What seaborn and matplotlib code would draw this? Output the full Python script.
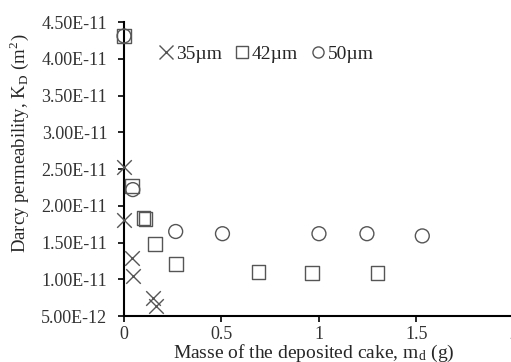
import pandas as pd
import matplotlib
matplotlib.use("Agg")
import matplotlib.pyplot as plt
import seaborn as sns
from matplotlib.lines import Line2D
from matplotlib.ticker import FuncFormatter

# Data
mass_35 = [0.0, 0.0, 0.04, 0.045, 0.15, 0.165]
perm_35 = [2.53e-11, 1.80e-11, 1.29e-11, 1.05e-11, 7.5e-12, 6.4e-12]

mass_42 = [0.0, 0.04, 0.10, 0.11, 0.16, 0.265, 0.69, 0.965, 1.30]
perm_42 = [4.31e-11, 2.27e-11, 1.83e-11, 1.82e-11, 1.48e-11, 1.21e-11, 1.10e-11, 1.08e-11, 1.08e-11]

mass_50 = [0.0, 0.045, 0.265, 0.505, 1.0, 1.246, 1.53]
perm_50 = [4.31e-11, 2.22e-11, 1.65e-11, 1.62e-11, 1.62e-11, 1.62e-11, 1.59e-11]

y_ticks = [5e-12, 1e-11, 1.5e-11, 2e-11, 2.5e-11, 3e-11, 3.5e-11, 4e-11, 4.5e-11]
x_ticks = [0, 0.5, 1, 1.5, 2]

sns.set_style("white")
plt.rcParams['font.family'] = ['Liberation Serif', 'DejaVu Serif']
plt.rcParams['mathtext.fontset'] = 'stix'

grey = '#555555'
fig = plt.figure(figsize=(5.11, 3.62), dpi=100)
ax = fig.add_axes([0.2427, 0.127, 0.763, 0.8122])

sns.scatterplot(x=mass_35, y=perm_35, marker='x', s=110, color=grey, linewidth=1.0, ax=ax, clip_on=False, zorder=3)
sns.scatterplot(x=mass_42, y=perm_42, marker='s', s=100, facecolor='none', edgecolor=grey, linewidth=1.0, ax=ax, clip_on=False, zorder=3)
sns.scatterplot(x=mass_50, y=perm_50, marker='o', s=100, facecolor='none', edgecolor=grey, linewidth=1.0, ax=ax, clip_on=False, zorder=3)

ax.set_xlim(0, 2)
ax.set_ylim(5e-12, 4.5e-11)
ax.set_xticks(x_ticks)
ax.set_yticks(y_ticks)
ax.xaxis.set_major_formatter(FuncFormatter(lambda v, p: f"{v:g}"))
ax.yaxis.set_major_formatter(FuncFormatter(lambda v, p: f"{v:.2E}".replace("E-0", "E-")))
ax.tick_params(axis='both', left=True, bottom=True, direction='out', length=4, width=1.2,
               labelsize=13, colors='black', labelcolor='#333333')
ax.tick_params(axis='y', pad=8)
ax.tick_params(axis='x', pad=3.5)

for side in ['top', 'right']:
    ax.spines[side].set_visible(False)
for side in ['left', 'bottom']:
    ax.spines[side].set_color('black')
    ax.spines[side].set_linewidth(1.5)

ax.set_xlabel(r"Masse of the deposited cake, m$_\mathregular{d}$ (g)", fontsize=14, va='baseline')
ax.xaxis.set_label_coords(0.486, -0.143)
ax.set_ylabel(r"Darcy permeability, K$_\mathregular{D}$ (m$^\mathregular{2}$)", fontsize=13.5)
ax.yaxis.set_label_coords(-0.238, 0.587)

handles = [
    Line2D([], [], marker='x', linestyle='none', color=grey, markersize=10, markeredgewidth=1.0),
    Line2D([], [], marker='s', linestyle='none', markerfacecolor='none', markeredgecolor=grey, markersize=8, markeredgewidth=1.0),
    Line2D([], [], marker='o', linestyle='none', markerfacecolor='none', markeredgecolor=grey, markersize=8, markeredgewidth=1.0),
]
ax.legend(handles, ['35µm', '42µm', '50µm'], ncol=3, frameon=False, fontsize=14,
          handlelength=0.7, handletextpad=0.15, columnspacing=0.7,
          loc='center left', bbox_to_anchor=(0.045, 0.89))

fig.savefig('out.png', dpi=100)
